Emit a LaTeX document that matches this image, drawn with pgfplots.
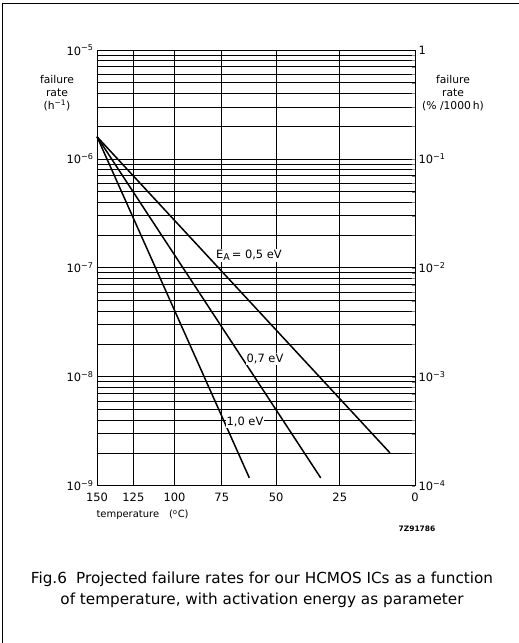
\documentclass[border=0pt]{standalone}
\usepackage{fontspec}
\setmainfont{DejaVu Sans}
\usepackage{pgfplots}
\pgfplotsset{compat=1.18}
\begin{document}
\begin{tikzpicture}[x=1bp,y=1bp]
\useasboundingbox (0,0) rectangle (519,643);
\draw[line width=1bp] (2.5,0) -- (2.5,639) -- (519,639);
% x coordinate: 1000/(T+273.15)  (Arrhenius scale)
\begin{axis}[
  at={(97bp,157.3bp)}, anchor=south west, scale only axis,
  width=318bp, height=435.7bp,
  xmin=2.36323, xmax=3.66099,
  ymode=log, ymin=1e-9, ymax=1e-5,
  xtick={2.36323,2.51162,2.67989,2.87233,3.09454,3.35402,3.66099},
  xticklabels={150,125,100,75,50,25,0},
  ytick={1e-9,1e-8,1e-7,1e-6,1e-5},
  yticklabels={10\textsuperscript{−9},10\textsuperscript{−8},10\textsuperscript{−7},10\textsuperscript{−6},10\textsuperscript{−5}},
  minor ytick={2e-9,3e-9,4e-9,5e-9,6e-9,7e-9,8e-9,9e-9,
               2e-8,3e-8,4e-8,5e-8,6e-8,7e-8,8e-8,9e-8,
               2e-7,3e-7,4e-7,5e-7,6e-7,7e-7,8e-7,9e-7,
               2e-6,3e-6,4e-6,5e-6,6e-6,7e-6,8e-6,9e-6},
  xmajorgrids, ymajorgrids, yminorgrids,
  major grid style={black, line width=0.8bp},
  minor grid style={black, line width=0.8bp},
  major tick length=0pt, minor tick length=0pt,
  axis line style={line width=0.9bp},
  tick label style={font=\fontsize{11.5}{13}\selectfont},
  xticklabel style={yshift=-4bp},
  axis y line*=left, axis x line*=bottom,
  clip=false,
]
\addplot[black, line width=1.5bp] coordinates {(2.36323,1.60e-6) (3.55896,2.0e-9)};
\addplot[black, line width=1.5bp] coordinates {(2.36323,1.60e-6) (3.27615,1.18e-9)};
\addplot[black, line width=1.5bp] coordinates {(2.36323,1.60e-6) (2.98478,1.18e-9)};
\draw[line width=0.9bp] (rel axis cs:0,1) -- (rel axis cs:1,1);
\node[fill=white, inner sep=1pt, font=\fontsize{11.5}{13}\selectfont] at (axis cs:2.9835,1.30e-7) {E\raisebox{-0.35ex}{\fontsize{9.5}{10}\selectfont A}\,= 0,5 eV};
\node[fill=white, inner sep=1pt, font=\fontsize{11.5}{13}\selectfont] at (axis cs:3.0488,1.45e-8) {0,7 eV};
\node[fill=white, inner sep=1pt, font=\fontsize{11.5}{13}\selectfont] at (axis cs:2.9672,3.84e-9) {1,0 eV};
\end{axis}
\begin{axis}[
  at={(97bp,157.3bp)}, anchor=south west, scale only axis,
  width=318bp, height=435.7bp,
  xmin=2.36323, xmax=3.66099,
  ymode=log, ymin=1e-4, ymax=1,
  axis y line*=right, hide x axis,
  ytick={1e-4,1e-3,1e-2,1e-1,1},
  yticklabels={10\textsuperscript{−4},10\textsuperscript{−3},10\textsuperscript{−2},10\textsuperscript{−1},1},
  minor ytick={},
  major tick length=0pt,
  axis line style={line width=0.9bp},
  tick label style={font=\fontsize{11.5}{13}\selectfont},
]
\end{axis}
\node[align=center, font=\fontsize{10.8}{13}\selectfont] at (57,550) {failure\\rate\\(h\textsuperscript{−1})};
\node[align=center, font=\fontsize{10.8}{13}\selectfont] at (453,550) {failure\\rate\\(\% /1000\,h)};
\node[anchor=west, font=\fontsize{10}{12}\selectfont] at (93,128) {temperature\quad(\textsuperscript{o}C)};
\node[font=\bfseries\fontsize{7.5}{9}\selectfont] at (417,114) {7Z91786};
\node[align=center, font=\fontsize{15.3}{21}\selectfont] at (262,53) {Fig.6\hspace{0.6em}Projected failure rates for our HCMOS ICs as a function\\of temperature, with activation energy as parameter};
\end{tikzpicture}
\end{document}
